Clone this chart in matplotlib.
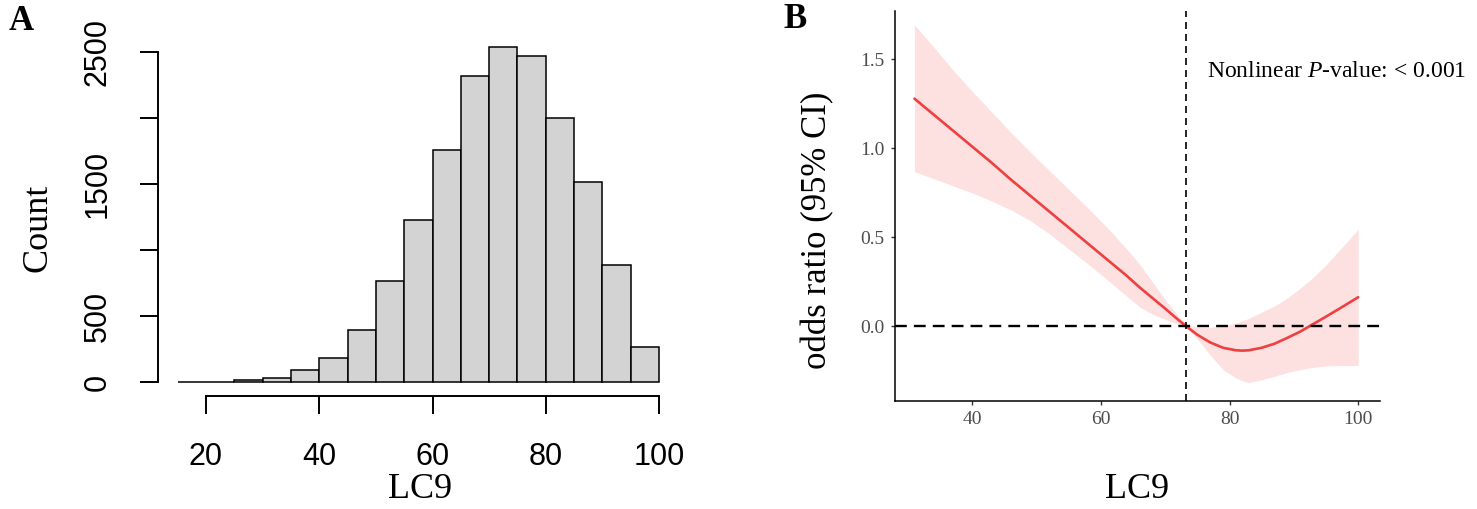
import matplotlib
matplotlib.use("Agg")
import matplotlib.pyplot as plt
import numpy as np

# ---------------- data ----------------
# Panel A: histogram of LC9 (bin edges step 5 from 15 to 100)
bin_left = [15, 20, 25, 30, 35, 40, 45, 50, 55, 60, 65, 70, 75, 80, 85, 90, 95]
counts = [2, 4, 14, 35, 95, 184, 399, 769, 1229, 1758, 2318, 2543, 2470, 2000, 1514, 888, 267]
a_xticks = [20, 40, 60, 80, 100]
a_yticks = [0, 500, 1000, 1500, 2000, 2500]
a_ylabels = ["0", "500", "", "1500", "", "2500"]

# Panel B: restricted cubic spline, odds ratio with 95% CI
lc9 = [31, 34, 37, 40, 43, 46, 49, 52, 55, 58, 61, 64, 66, 68, 70, 72, 73.3,
       75, 77, 79, 81, 82, 83, 85, 87, 89, 91, 93, 95, 97, 99, 100]
fit = [1.28, 1.19, 1.10, 1.01, 0.92, 0.825, 0.735, 0.645, 0.555, 0.465, 0.375, 0.285,
       0.22, 0.16, 0.10, 0.038, 0.0,
       -0.047, -0.09, -0.12, -0.134, -0.136, -0.134, -0.12, -0.097, -0.064, -0.029,
       0.013, 0.055, 0.098, 0.142, 0.164]
upper = [1.694, 1.57, 1.44, 1.32, 1.205, 1.09, 0.98, 0.875, 0.77, 0.665, 0.555, 0.435,
         0.35, 0.25, 0.15, 0.06, 0.01,
         -0.005, -0.005, 0.003, 0.02, 0.032, 0.045, 0.08, 0.115, 0.16, 0.215,
         0.275, 0.345, 0.425, 0.505, 0.546]
lower = [0.87, 0.83, 0.79, 0.75, 0.705, 0.655, 0.595, 0.52, 0.435, 0.35, 0.262, 0.17,
         0.11, 0.07, 0.04, 0.012, -0.01,
         -0.07, -0.16, -0.244, -0.29, -0.305, -0.315, -0.30, -0.28, -0.258, -0.242,
         -0.23, -0.222, -0.22, -0.22, -0.22]
knot = 73.3
b_xticks = [40, 60, 80, 100]
b_yticks = [0.0, 0.5, 1.0, 1.5]

# ---------------- figure ----------------
W, H = 1477, 509
fig = plt.figure(figsize=(W / 100, H / 100), dpi=100)

def frac_box(l, t, r, b):
    return [l / W, 1 - b / H, (r - l) / W, (b - t) / H]

SANS = "Liberation Sans"
SERIF = "Liberation Serif"
plt.rcParams["mathtext.fontset"] = "custom"
plt.rcParams["mathtext.rm"] = "Liberation Serif"
plt.rcParams["mathtext.it"] = "Liberation Serif:italic"

# ---- Panel A ----
axA = fig.add_axes(frac_box(158.4, 33.2, 678.3, 395.7))
axA.bar(bin_left, counts, width=5, align="edge", color="#d3d3d3",
        edgecolor="black", linewidth=1.1)
axA.set_xlim(11.6, 103.4)
axA.set_ylim(-101.7, 2644.7)
for s in ["top", "right"]:
    axA.spines[s].set_visible(False)
axA.spines["left"].set_bounds(0, 2500)
axA.spines["bottom"].set_bounds(20, 100)
for s in ["left", "bottom"]:
    axA.spines[s].set_linewidth(1.4)
axA.set_xticks(a_xticks)
axA.set_xticklabels([str(v) for v in a_xticks], fontfamily=SANS, fontsize=22)
axA.set_yticks(a_yticks)
axA.set_yticklabels(a_ylabels, fontfamily=SANS, fontsize=22, rotation=90, va="center")
axA.tick_params(axis="both", length=13, width=1.4, pad=20)

fig.text(38 / W, 1 - 228 / H, "Count", rotation=90, ha="center", va="center",
         fontfamily=SERIF, fontsize=26)
fig.text(420 / W, 1 - 490 / H, "LC9", ha="center", va="center",
         fontfamily=SERIF, fontsize=26)
fig.text(21 / W, 1 - 21 / H, "A", ha="center", va="center",
         fontfamily=SERIF, fontsize=25, fontweight="bold")

# ---- Panel B ----
axB = fig.add_axes(frac_box(894.5, 10.9, 1380, 401))
axB.fill_between(lc9, lower, upper, color="#fde0e0", linewidth=0)
axB.plot(lc9, fit, color="#ee4040", linewidth=1.9, solid_capstyle="round",
         solid_joinstyle="round")
axB.axhline(0, color="black", linewidth=1.7, linestyle=(0, (5, 3)))
axB.axvline(knot, color="black", linewidth=1.2, linestyle=(0, (4.2, 3)))
axB.set_xlim(27.9, 103.4)
axB.set_ylim(-0.419, 1.773)
for s in ["top", "right"]:
    axB.spines[s].set_visible(False)
for s in ["left", "bottom"]:
    axB.spines[s].set_linewidth(1.1)
axB.set_xticks(b_xticks)
axB.set_xticklabels([str(v) for v in b_xticks], fontfamily=SERIF, fontsize=14, color="#4d4d4d")
axB.set_yticks(b_yticks)
axB.set_yticklabels(["%.1f" % v for v in b_yticks], fontfamily=SERIF, fontsize=14, color="#4d4d4d")
axB.tick_params(axis="both", length=3, width=1.0, color="#333333", pad=4)

axB.text(76.5, 1.431, "Nonlinear $P$-value: < 0.001", ha="left", va="center",
         fontfamily=SERIF, fontsize=17)

fig.text(818 / W, 1 - 230 / H, "odds ratio (95% CI)", rotation=90, ha="center", va="center",
         fontfamily=SERIF, fontsize=25)
fig.text(1137 / W, 1 - 490 / H, "LC9", ha="center", va="center",
         fontfamily=SERIF, fontsize=26)
fig.text(795 / W, 1 - 19 / H, "B", ha="center", va="center",
         fontfamily=SERIF, fontsize=25, fontweight="bold")

fig.savefig("out.png", dpi=100)
